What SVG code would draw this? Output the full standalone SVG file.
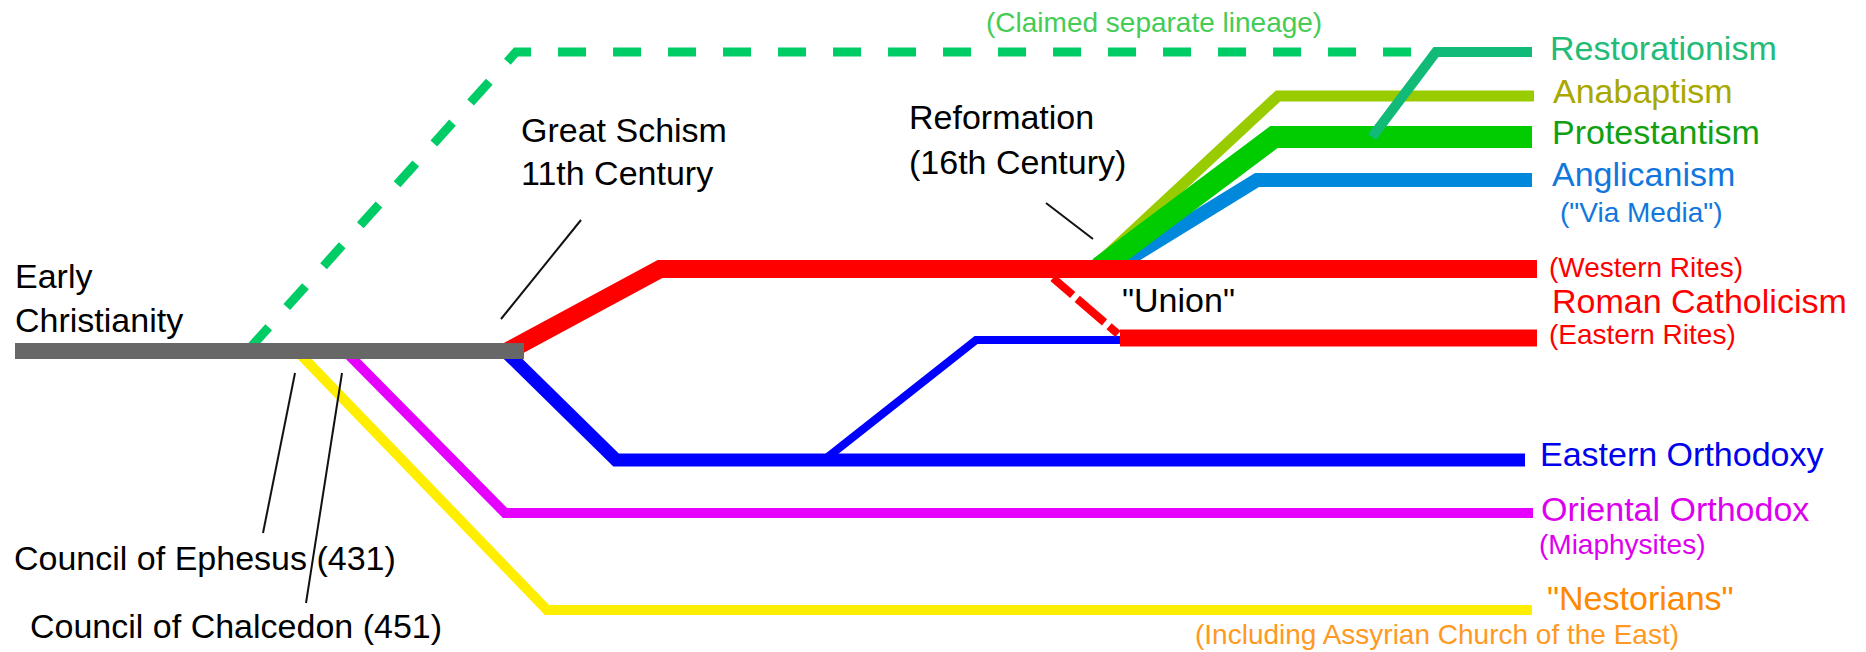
<svg xmlns="http://www.w3.org/2000/svg" width="1866" height="652" viewBox="0 0 1866 652">
<style>
text{font-family:"Liberation Sans",Arial,sans-serif;}
.big{font-size:34px;}
.small{font-size:28px;}
.line{fill:none;stroke-linecap:butt;stroke-linejoin:miter;}
.ptr{fill:none;stroke:#111;stroke-width:2;}
</style>
<rect width="1866" height="652" fill="#ffffff"/>
<g id="connectors">
  <path class="line" d="M250 348 L516 52 L1412 52" stroke="#00cc66" stroke-width="9" stroke-dasharray="28 27" stroke-linejoin="round"/>
  <path class="line" d="M297 351 L547 610 L1532 610" stroke="#ffee00" stroke-width="10"/>
  <path class="line" d="M345 351 L505 513 L1533 513" stroke="#e600ff" stroke-width="10"/>
  <path class="line" d="M505 351 L616 460 L1525 460" stroke="#0000ff" stroke-width="13"/>
  <path class="line" d="M824 460 L976 340 L1122 340" stroke="#0000ff" stroke-width="8"/>
  <path class="line" d="M1114 268 L1257 180 L1532 180" stroke="#0088dd" stroke-width="14"/>
  <path class="line" d="M1093 268 L1278 96 L1534 96" stroke="#99cc00" stroke-width="11"/>
  <path class="line" d="M1099 268 L1274 137 L1532 137" stroke="#00cc00" stroke-width="22"/>
  <path class="line" d="M1372 137 L1436 52 L1532 52" stroke="#11bb77" stroke-width="10"/>
  <path class="line" d="M1053 278 L1118 334" stroke="#ff0000" stroke-width="8" stroke-dasharray="26 6 36 6 14"/>
  <path class="line" d="M508 351 L660 269 L1537 269" stroke="#ff0000" stroke-width="18"/>
  <path class="line" d="M1120 338 L1537 338" stroke="#ff0000" stroke-width="17"/>
  <path class="line" d="M15 351 L524 351" stroke="#676767" stroke-width="16"/>
  <path class="ptr" d="M581 220 L501 319"/>
  <path class="ptr" d="M1046 203 L1093 239"/>
  <path class="ptr" d="M295 373 L263 533"/>
  <path class="ptr" d="M342 373 L306 603"/>
</g>
<g id="early-christianity">
  <text class="big" x="15" y="288" fill="#000">Early</text>
  <text class="big" x="15" y="332" fill="#000">Christianity</text>
</g>
<g id="great-schism">
  <text class="big" x="521" y="142" fill="#000">Great Schism</text>
  <text class="big" x="521" y="185" fill="#000">11th Century</text>
</g>
<g id="reformation">
  <text class="big" x="909" y="129" fill="#000">Reformation</text>
  <text class="big" x="909" y="174" fill="#000">(16th Century)</text>
</g>
<g id="union">
  <text class="big" x="1122" y="312" fill="#000">"Union"</text>
</g>
<g id="council-ephesus">
  <text class="big" x="14" y="570" fill="#000">Council of Ephesus (431)</text>
</g>
<g id="council-chalcedon">
  <text class="big" x="30" y="638" fill="#000">Council of Chalcedon (451)</text>
</g>
<g id="claimed-lineage">
  <text class="small" x="986" y="32" fill="#44cc55">(Claimed separate lineage)</text>
</g>
<g id="restorationism">
  <text class="big" x="1550" y="60" fill="#22bb77">Restorationism</text>
</g>
<g id="anabaptism">
  <text class="big" x="1553" y="103" fill="#a8a800">Anabaptism</text>
</g>
<g id="protestantism">
  <text class="big" x="1552" y="144" fill="#11a011">Protestantism</text>
</g>
<g id="anglicanism">
  <text class="big" x="1552" y="186" fill="#1177dd">Anglicanism</text>
  <text class="small" x="1560" y="222" fill="#1177dd">("Via Media")</text>
</g>
<g id="roman-catholicism">
  <text class="small" x="1549" y="277" fill="#ff0000">(Western Rites)</text>
  <text class="big" x="1552" y="313" fill="#ff0000">Roman Catholicism</text>
  <text class="small" x="1549" y="344" fill="#ff0000">(Eastern Rites)</text>
</g>
<g id="eastern-orthodoxy">
  <text class="big" x="1540" y="466" fill="#0000ee">Eastern Orthodoxy</text>
</g>
<g id="oriental-orthodox">
  <text class="big" x="1541" y="521" fill="#dd00ee">Oriental Orthodox</text>
  <text class="small" x="1539" y="554" fill="#dd00ee">(Miaphysites)</text>
</g>
<g id="nestorians">
  <text class="big" x="1547" y="610" fill="#ff8800">"Nestorians"</text>
  <text class="small" x="1195" y="644" fill="#ff9922">(Including Assyrian Church of the East)</text>
</g>
</svg>
